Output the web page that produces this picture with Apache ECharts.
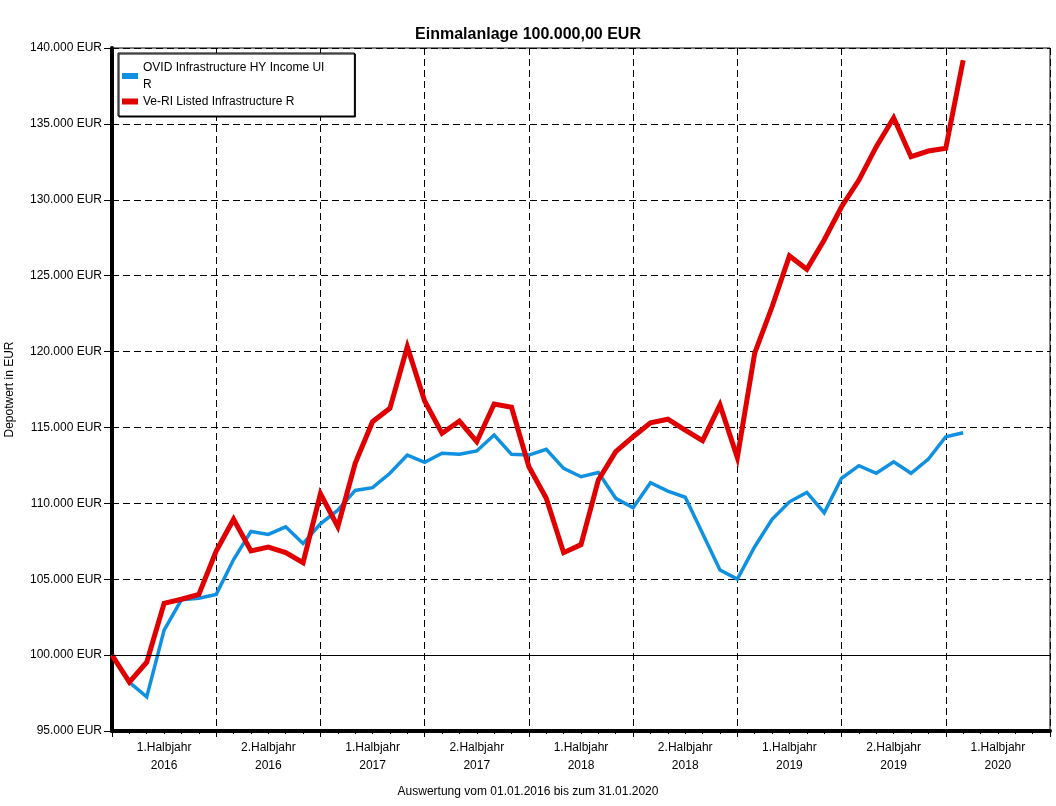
<!DOCTYPE html>
<html>
<head>
<meta charset="utf-8">
<script src="https://cdn.jsdelivr.net/npm/echarts@6/dist/echarts.min.js"></script>
<style>
html,body{margin:0;padding:0;background:#fff;}
#chart{width:1056px;height:806px;}
</style>
</head>
<body>
<div id="chart"></div>
<script>
// Half-year category labels (x axis)
var halfYearLabels = [
  '1.Halbjahr\n2016', '2.Halbjahr\n2016', '1.Halbjahr\n2017', '2.Halbjahr\n2017',
  '1.Halbjahr\n2018', '2.Halbjahr\n2018', '1.Halbjahr\n2019', '2.Halbjahr\n2019',
  '1.Halbjahr\n2020'
];
// Monthly values, 01.01.2016 .. 31.01.2020 (month index 0..49)
var ovidName = 'OVID Infrastructure HY Income UI R';
var ovidValues = [
  100000, 98200, 97250, 101650, 103650, 103750, 104000, 106300, 108150, 107950,
  108450, 107350, 108650, 109550, 110850, 111030, 111980, 113180, 112700, 113300,
  113230, 113450, 114500, 113230, 113180, 113560, 112300, 111750, 112030, 110330,
  109710, 111360, 110810, 110400, 108020, 105610, 105010, 107140, 108950, 110100,
  110720, 109380, 111650, 112480, 111980, 112740, 111980, 112920, 114390, 114650
];
var veriName = 'Ve-RI Listed Infrastructure R';
var veriValues = [
  100000, 98220, 99530, 103410, 103680, 104000, 106850, 108950, 106870, 107120,
  106760, 106090, 110630, 108460, 112640, 115380, 116260, 120320, 116740, 114610,
  115420, 114060, 116540, 116330, 112410, 110330, 106750, 107280, 111540, 113400,
  114390, 115310, 115540, 114830, 114130, 116480, 113020, 119900, 122950, 126300,
  125420, 127350, 129540, 131300, 133500, 135400, 132840, 133210, 133390, 139200
];

function pairs(vals){ return vals.map(function(v,i){ return [i, v]; }); }
function fmtEur(v){
  return String(Math.round(v)).replace(/\B(?=(\d{3})+(?!\d))/g, '.') + ' EUR';
}

var font = 'Arial, "Liberation Sans", sans-serif';
var chart = echarts.init(document.getElementById('chart'));
chart.setOption({
  animation: false,
  backgroundColor: '#fff',
  textStyle: { fontFamily: font, color: '#000' },
  title: [
    { text: 'Einmalanlage 100.000,00 EUR', left: 'center', top: 22,
      textStyle: { fontSize: 16, fontWeight: 'bold', color: '#000', fontFamily: font } },
    { text: 'Auswertung vom 01.01.2016 bis zum 31.01.2020', left: 'center', top: 781,
      textStyle: { fontSize: 12, fontWeight: 'normal', color: '#000', fontFamily: font } }
  ],
  legend: {
    orient: 'vertical', left: 118, top: 53,
    padding: [6, 30, 6, 4], itemGap: 0,
    itemWidth: 16, itemHeight: 6, icon: 'rect',
    backgroundColor: '#fff', borderColor: '#000', borderWidth: 1,
    shadowColor: '#000', shadowOffsetX: 1, shadowOffsetY: 1, shadowBlur: 0,
    textStyle: { fontSize: 12, color: '#000', lineHeight: 17, fontFamily: font },
    formatter: function(n){ return n === ovidName ? 'OVID Infrastructure HY Income UI\nR' : n; },
    data: [ovidName, veriName]
  },
  grid: { left: 112, right: 6, top: 48, bottom: 75, show: true, borderColor: '#000', borderWidth: 1,
    containLabel: false, outerBoundsMode: 'none' },
  xAxis: [
    { type: 'value', min: 0, max: 54, interval: 6,
      axisLine: { show: true, lineStyle: { color: '#000', width: 4 } },
      axisTick: { show: true, length: 6, lineStyle: { color: '#000', width: 1 } },
      minorTick: { show: true, splitNumber: 6, length: 3, lineStyle: { color: '#000', width: 1 } },
      axisLabel: { show: false },
      splitLine: { show: true, lineStyle: { color: '#000', width: 1, type: [7, 4] } }
    },
    { type: 'category', data: halfYearLabels, boundaryGap: true, position: 'bottom',
      axisLine: { show: false }, axisTick: { show: false }, splitLine: { show: false },
      axisLabel: { fontSize: 12, color: '#000', lineHeight: 18, margin: 8, fontFamily: font, interval: 0 }
    }
  ],
  yAxis: {
    type: 'value', min: 95000, max: 140000, interval: 5000,
    name: 'Depotwert in EUR', nameLocation: 'middle', nameGap: 96,
    nameTextStyle: { fontSize: 12, color: '#000', fontFamily: font },
    axisLine: { show: true, lineStyle: { color: '#000', width: 4 } },
    axisTick: { show: true, length: 8, lineStyle: { color: '#000', width: 1 } },
    axisLabel: { fontSize: 12, color: '#000', margin: 10, fontFamily: font, formatter: fmtEur },
    splitLine: { show: true, lineStyle: { color: '#000', width: 1, type: [7, 4] } }
  },
  series: [
    { name: ovidName, type: 'line', xAxisIndex: 0, data: pairs(ovidValues),
      showSymbol: false, symbol: 'none', color: '#1090e0',
      lineStyle: { width: 3.5, color: '#1090e0', join: 'miter' },
      markLine: { silent: true, symbol: 'none', label: { show: false },
        lineStyle: { color: '#000', width: 1, type: 'solid' },
        data: [{ yAxis: 100000 }] }
    },
    { name: veriName, type: 'line', xAxisIndex: 0, data: pairs(veriValues),
      showSymbol: false, symbol: 'none', color: '#e00000',
      lineStyle: { width: 5, color: '#e00000', join: 'miter' }
    }
  ]
});
</script>
</body>
</html>
